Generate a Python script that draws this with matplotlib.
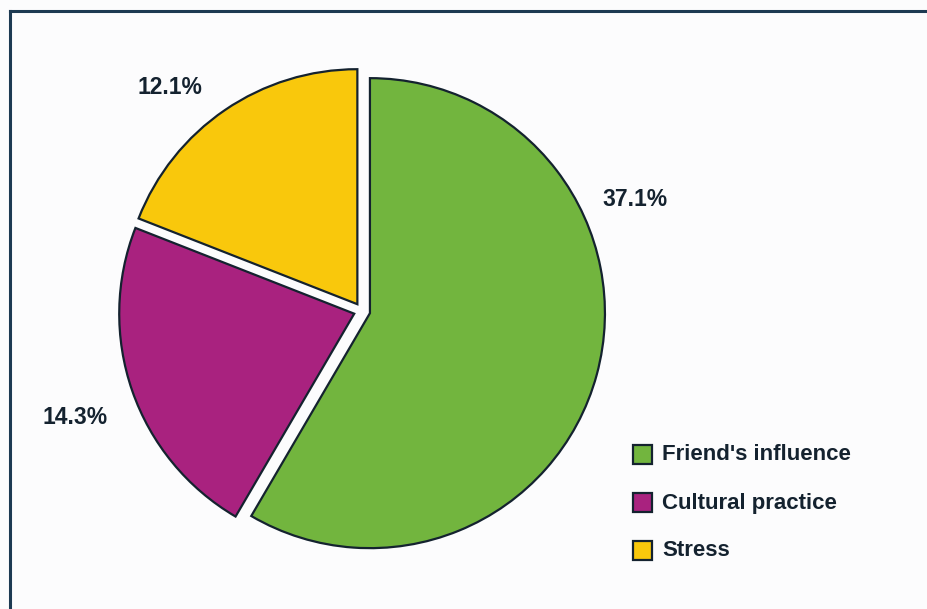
import matplotlib
matplotlib.use("Agg")
import matplotlib.pyplot as plt
from matplotlib.patches import Rectangle
from matplotlib.lines import Line2D

# Data
categories = ["Friend's influence", "Cultural practice", "Stress"]
percentages = [37.1, 14.3, 12.1]
colors = ["#72b53e", "#a9227f", "#f9c80c"]

W, H = 927, 609
fig = plt.figure(figsize=(W / 100, H / 100), dpi=100, facecolor="#fcfcfd")
ax = fig.add_axes([0, 0, 1, 1])

ink = "#14222f"
plt.rcParams["font.family"] = ["Liberation Sans", "DejaVu Sans"]

cx, cy, r = 362, H - 311, 235
wedges, _ = ax.pie(
    percentages,
    colors=colors,
    startangle=90,
    counterclock=False,
    center=(cx, cy),
    radius=r,
    explode=[0.035 * r] * 3,
    wedgeprops=dict(edgecolor=ink, linewidth=1.6),
)
ax.set_xlim(0, W)
ax.set_ylim(0, H)
ax.set_aspect("equal")
ax.axis("off")

# Percentage labels placed outside their wedges
label_pos = [(635, H - 200), (75, H - 418), (170, H - 87)]
for pct, (x, y) in zip(percentages, label_pos):
    ax.text(x, y, f"{pct}%", ha="center", va="center", fontsize=16.5,
            fontweight="bold", color=ink)

# Legend drawn as colored boxes with text
leg_y = [H - 455, H - 503, H - 551]
for name, col, y in zip(categories, colors, leg_y):
    ax.add_patch(Rectangle((633, y - 9), 19, 19, facecolor=col,
                           edgecolor=ink, linewidth=1.6))
    ax.text(662, y, name, ha="left", va="center", fontsize=16,
            fontweight="bold", color=ink)

# Frame lines along the top and left edges
ax.add_line(Line2D([10, W], [H - 11, H - 11], color="#1d3a52", linewidth=2.2))
ax.add_line(Line2D([10, 10], [0, H - 11], color="#1d3a52", linewidth=2.2))

fig.savefig("out.png", dpi=100, facecolor=fig.get_facecolor())
